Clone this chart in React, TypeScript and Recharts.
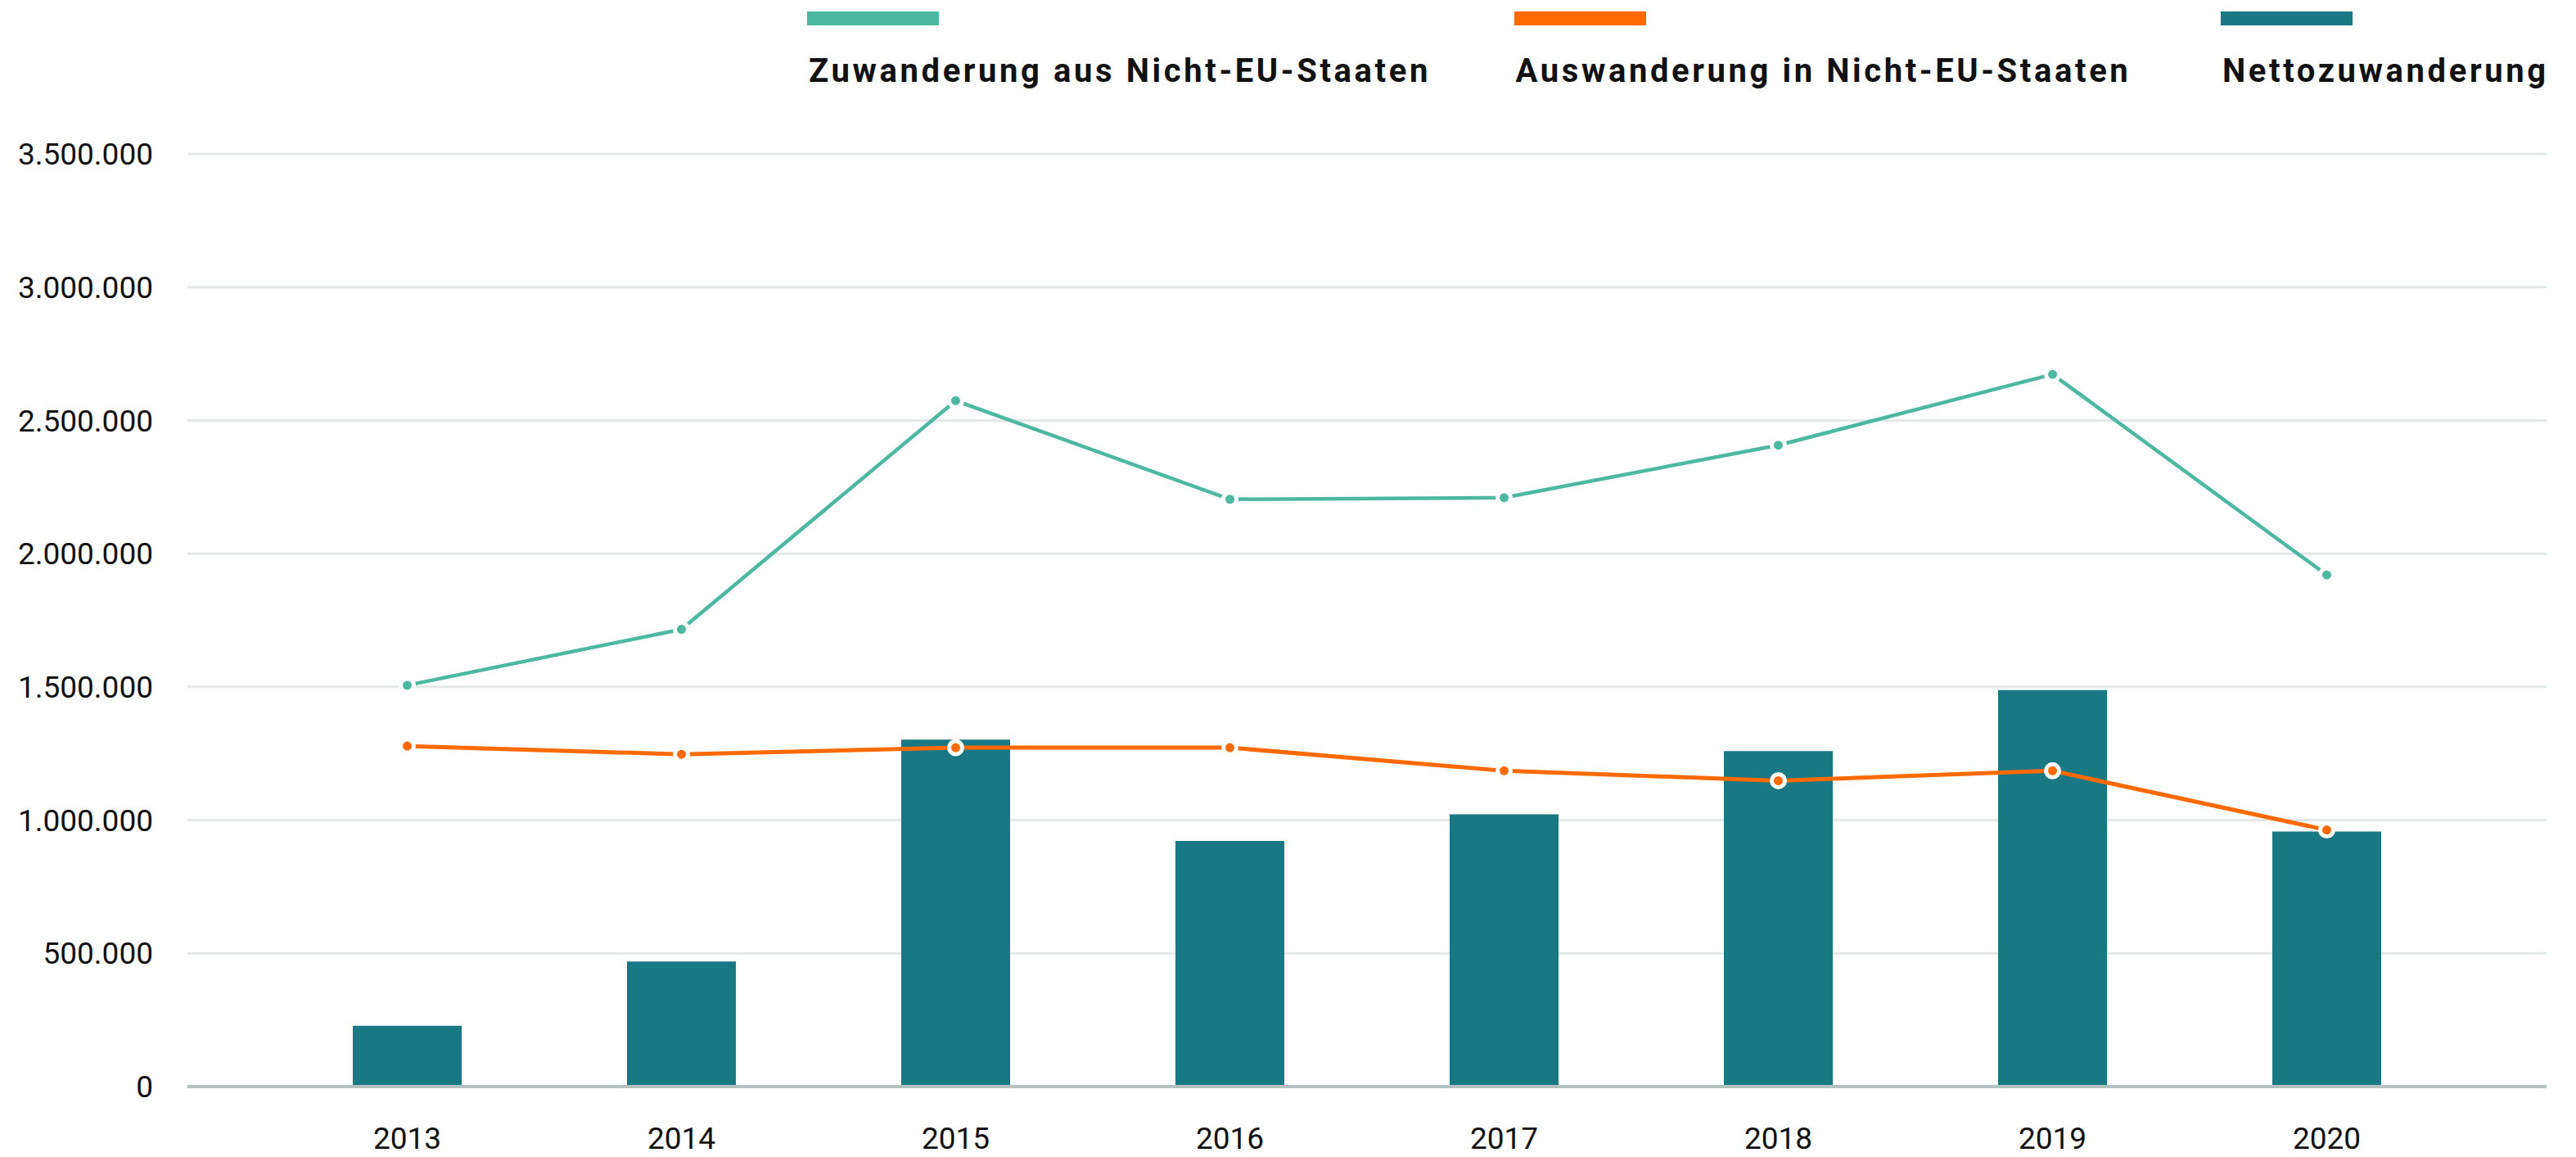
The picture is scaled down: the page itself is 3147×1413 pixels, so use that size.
import React from 'react'
import {
  ComposedChart, Bar, Line, XAxis, YAxis, CartesianGrid, Legend
} from 'recharts'

const YEARS = ['2013', '2014', '2015', '2016', '2017', '2018', '2019', '2020']
const ZUWANDERUNG = [1506000, 1716000, 2574000, 2204000, 2210000, 2407000, 2673000, 1920000]
const AUSWANDERUNG = [1278000, 1247000, 1272000, 1272000, 1185000, 1148000, 1185000, 963000]
const NETTO = [228000, 469000, 1302000, 922000, 1022000, 1259000, 1488000, 957000]
const Y_TICKS = [0, 500000, 1000000, 1500000, 2000000, 2500000, 3000000, 3500000]

const SERIES = [
  { key: 'zu', name: 'Zuwanderung aus Nicht-EU-Staaten', color: '#4db8a0' },
  { key: 'aus', name: 'Auswanderung in Nicht-EU-Staaten', color: '#ff6a00' },
  { key: 'netto', name: 'Nettozuwanderung', color: '#187884' },
]

const data = YEARS.map((year, i) => ({
  year,
  zu: ZUWANDERUNG[i],
  aus: AUSWANDERUNG[i],
  netto: NETTO[i],
}))

const fmt = (v: number) => String(v).replace(/\B(?=(\d{3})+(?!\d))/g, '.')

const FONT = 'Roboto, "Noto Sans", sans-serif'

function LegendBox() {
  return (
    <div style={{ position: 'relative', width: 3147, height: 110, fontFamily: FONT }}>
      {SERIES.map((s, i) => (
        <div key={s.key} style={{ position: 'absolute', left: 986 + i * 863.5, top: 0, height: 110 }}>
          <div style={{ position: 'absolute', left: 0, top: 14, width: 161, height: 17, background: s.color }} />
          <div style={{
            position: 'absolute', left: 2, top: 63, fontSize: 40, fontWeight: 700,
            letterSpacing: 3.6, color: '#111', whiteSpace: 'nowrap', lineHeight: '47px'
          }}>
            {s.name}
          </div>
        </div>
      ))}
    </div>
  )
}

export default function App() {
  return (
    <div style={{ position: 'absolute', left: 0, top: 0, background: '#fff' }}>
      <ComposedChart width={3147} height={1413} data={data}
        margin={{ top: 188, right: 36, bottom: 0, left: 0 }}>
        <CartesianGrid vertical={false} stroke="#e3e8e8" strokeWidth={3} />
        <XAxis dataKey="year" height={86} padding={{ left: 101, right: 101 }}
          axisLine={{ stroke: '#b3c1c1', strokeWidth: 4 }} tickLine={false} tickMargin={44}
          tick={{ fontSize: 37, fill: '#111', fontFamily: FONT }} />
        <YAxis width={229} domain={[0, 3500000]} ticks={Y_TICKS} tickFormatter={fmt}
          axisLine={false} tickLine={false} tickMargin={36}
          tick={{ fontSize: 37, fill: '#111', fontFamily: FONT }} />
        <Legend verticalAlign="middle" wrapperStyle={{ top: 0, left: 0, width: 3147 }}
          content={() => <LegendBox />} />
        <Bar dataKey="netto" name="Nettozuwanderung" fill="#187884" barSize={133}
          isAnimationActive={false} />
        <Line type="linear" dataKey="zu" name="Zuwanderung aus Nicht-EU-Staaten"
          stroke="#4db8a0" strokeWidth={4.5}
          dot={{ r: 8, fill: '#4db8a0', stroke: '#fff', strokeWidth: 5 }}
          isAnimationActive={false} />
        <Line type="linear" dataKey="aus" name="Auswanderung in Nicht-EU-Staaten"
          stroke="#ff6a00" strokeWidth={5}
          dot={{ r: 8, fill: '#ff6a00', stroke: '#fff', strokeWidth: 5 }}
          isAnimationActive={false} />
      </ComposedChart>
    </div>
  )
}
